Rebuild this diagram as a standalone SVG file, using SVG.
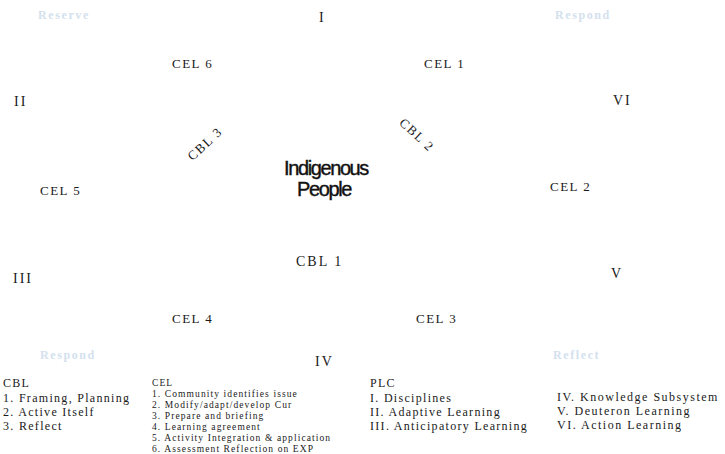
<svg xmlns="http://www.w3.org/2000/svg" width="725" height="454" viewBox="0 0 725 454">
<style>
text{font-family:"Liberation Serif","Times New Roman",serif;fill:#1a1a1a}
.lab{font-size:13px;letter-spacing:1.5px}
.rom{font-size:14px;letter-spacing:2px}
.faint{font-size:12px;fill:#d3e1ee;letter-spacing:1.6px;font-weight:bold}
.lg{font-size:12px;letter-spacing:1.3px}
.sm{font-size:9.5px;letter-spacing:1.1px}
.ctr{font-family:"Liberation Sans",Arial,sans-serif;font-size:20px;letter-spacing:-1.4px;text-anchor:middle;fill:#111;stroke:#111;stroke-width:0.4}
</style>
<rect width="725" height="454" fill="#ffffff"/>
<g id="faint-labels">
<text class="faint" x="38" y="19">Reserve</text>
<text class="faint" x="555" y="19">Respond</text>
<text class="faint" x="40" y="359">Respond</text>
<text class="faint" x="553" y="359">Reflect</text>
</g>
<g id="center"><text class="ctr" x="326" y="175">Indigenous</text><text class="ctr" x="324" y="196">People</text></g>
<g id="roman">
<text class="rom" x="319" y="22">I</text>
<text class="rom" x="14" y="106">II</text>
<text class="rom" x="613" y="105">VI</text>
<text class="rom" x="13" y="283">III</text>
<text class="rom" x="611" y="278">V</text>
<text class="rom" x="315" y="366">IV</text>
</g>
<g id="cel">
<text class="lab" x="172" y="68">CEL 6</text>
<text class="lab" x="424" y="68">CEL 1</text>
<text class="lab" x="40" y="195">CEL 5</text>
<text class="lab" x="550" y="191">CEL 2</text>
<text class="lab" x="172" y="323">CEL 4</text>
<text class="lab" x="416" y="323">CEL 3</text>
</g>
<g id="cbl">
<text class="lab" x="296" y="266" style="font-size:14px;letter-spacing:2px">CBL 1</text>
<text class="lab" text-anchor="middle" transform="translate(208,147) rotate(-43)">CBL 3</text>
<text class="lab" text-anchor="middle" transform="translate(414,138) rotate(43)">CBL 2</text>
</g>
<g id="legend-cbl">
<text class="lg" x="3" y="387">CBL</text>
<text class="lg" x="3" y="402">1. Framing, Planning</text>
<text class="lg" x="3" y="416">2. Active Itself</text>
<text class="lg" x="3" y="430">3. Reflect</text>
</g>
<g id="legend-cel">
<text class="sm" x="152" y="386">CEL</text>
<text class="sm" x="152" y="397">1. Community identifies issue</text>
<text class="sm" x="152" y="408">2. Modify/adapt/develop Cur</text>
<text class="sm" x="152" y="419">3. Prepare and briefing</text>
<text class="sm" x="152" y="430">4. Learning agreement</text>
<text class="sm" x="152" y="441">5. Activity Integration &amp; application</text>
<text class="sm" x="152" y="452">6. Assessment Reflection on EXP</text>
</g>
<g id="legend-plc">
<text class="lg" x="370" y="387">PLC</text>
<text class="lg" x="370" y="402">I. Disciplines</text>
<text class="lg" x="370" y="416">II. Adaptive Learning</text>
<text class="lg" x="370" y="430">III. Anticipatory Learning</text>
<text class="lg" x="557" y="401" style="letter-spacing:1.5px">IV. Knowledge Subsystem</text>
<text class="lg" x="557" y="415" style="letter-spacing:1.5px">V. Deuteron Learning</text>
<text class="lg" x="557" y="429" style="letter-spacing:1.5px">VI. Action Learning</text>
</g>
</svg>
